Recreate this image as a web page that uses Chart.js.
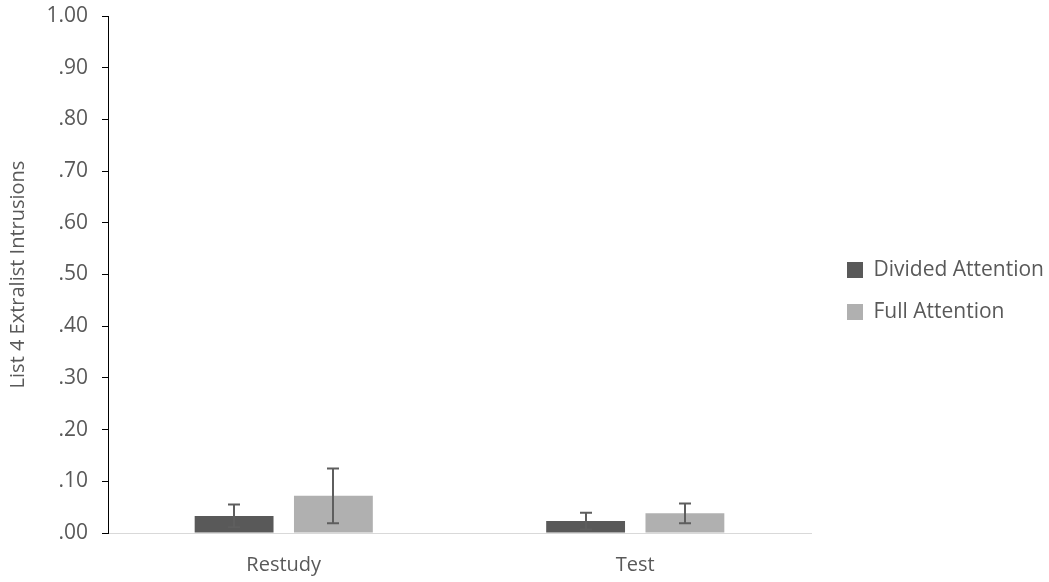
<!DOCTYPE html>
<html>
<head>
<meta charset="utf-8">
<script src="https://cdn.jsdelivr.net/npm/chart.js@4/dist/chart.umd.min.js"></script>
<style>
  html, body { margin: 0; padding: 0; background: #fff; }
  #wrap { width: 1049px; height: 582px; }
</style>
</head>
<body>
<div id="wrap"><canvas id="chart"></canvas></div>
<script>
const categories = ['Restudy', 'Test']
const seriesNames = ['Divided Attention', 'Full Attention']
const dividedMeans = [0.033, 0.023]
const dividedErrors = [0.022, 0.016]
const fullMeans = [0.072, 0.038]
const fullErrors = [0.053, 0.019]

const DARK = '#595959'
const LIGHT = '#b0b0b0'
const FONT = '"Open Sans", sans-serif'

// draws the +/- error whiskers on top of each bar
const errorBars = {
  id: 'errorBars',
  afterDatasetsDraw (chart) {
    const { ctx } = chart
    const yScale = chart.scales.y
    const errs = [dividedErrors, fullErrors]
    ctx.save()
    ctx.strokeStyle = '#5e5e5e'
    ctx.lineWidth = 2
    chart.data.datasets.forEach((ds, i) => {
      const meta = chart.getDatasetMeta(i)
      meta.data.forEach((bar, j) => {
        const top = yScale.getPixelForValue(ds.data[j] + errs[i][j])
        const bot = yScale.getPixelForValue(ds.data[j] - errs[i][j])
        const x = Math.round(bar.x)
        ctx.beginPath()
        ctx.moveTo(x, top); ctx.lineTo(x, bot)
        ctx.moveTo(x - 6, top); ctx.lineTo(x + 6, top)
        ctx.moveTo(x - 6, bot); ctx.lineTo(x + 6, bot)
        ctx.stroke()
      })
    })
    ctx.restore()
  },
}

// push the legend a bit further away from the plot, like the original
const legendGap = {
  id: 'legendGap',
  afterLayout (chart) {
    chart.legend.left += 15
    chart.legend.right += 15
  },
}

new Chart(document.getElementById('chart'), {
  type: 'bar',
  data: {
    labels: categories,
    datasets: [
      { label: seriesNames[0], data: dividedMeans, backgroundColor: DARK },
      { label: seriesNames[1], data: fullMeans, backgroundColor: LIGHT },
    ],
  },
  options: {
    responsive: true,
    maintainAspectRatio: false,
    animation: false,
    categoryPercentage: 0.565,
    barPercentage: 0.794,
    layout: { padding: { top: 2, right: 10, bottom: 2, left: 2 } },
    plugins: {
      legend: {
        position: 'right',
        labels: { color: DARK, font: { family: FONT, size: 21 }, boxWidth: 16, boxHeight: 16, padding: 21 },
      },
      tooltip: { enabled: false },
    },
    scales: {
      x: {
        grid: { display: true, drawOnChartArea: false, drawTicks: false },
        border: { color: '#d9d9d9', width: 1 },
        ticks: { color: DARK, font: { family: FONT, size: 20 }, padding: 20 },
        afterFit: s => { s.height = 47 },
      },
      y: {
        min: 0,
        max: 1,
        ticks: {
          stepSize: 0.1,
          color: DARK,
          font: { family: FONT, size: 21 },
          padding: 14,
          callback: v => v.toFixed(2).replace(/^0/, ''),
        },
        grid: { drawOnChartArea: false, drawTicks: true, tickLength: 6, color: '#000' },
        border: { color: '#000', width: 1 },
        title: { display: true, text: 'List 4 Extralist Intrusions', color: DARK, font: { family: FONT, size: 20 }, padding: { top: 4, bottom: 16 } },
        afterFit: s => { s.width = 106; s.paddingTop = 16 },
      },
    },
  },
  plugins: [errorBars, legendGap],
})
</script>
</body>
</html>
